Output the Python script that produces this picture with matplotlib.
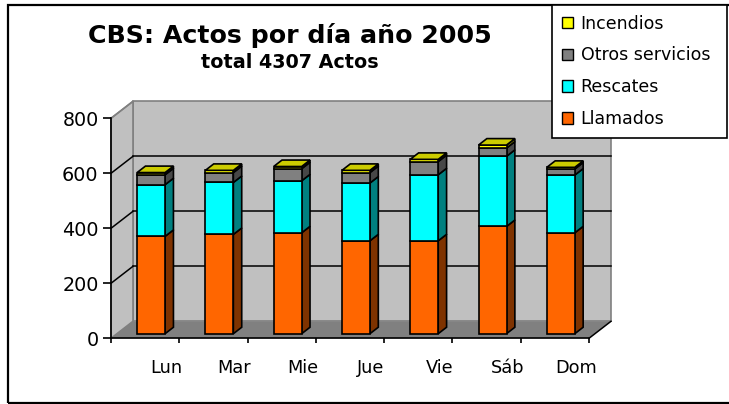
import numpy as np
import matplotlib.pyplot as plt
from matplotlib.patches import Polygon, Rectangle, Patch
from matplotlib.transforms import IdentityTransform, ScaledTranslation

# data
dias = ["Lun", "Mar", "Mie", "Jue", "Vie", "Sáb", "Dom"]
llamados = [354, 361, 367, 338, 338, 390, 367]
rescates = [188, 189, 189, 210, 240, 255, 210]
otros = [36, 36, 44, 38, 48, 30, 22]
incendios = [8, 8, 8, 8, 8, 11, 6]

series = [
    ("Llamados", llamados, "#FF6600", "#7F3300"),
    ("Rescates", rescates, "#00FFFF", "#008080"),
    ("Otros servicios", otros, "#808080", "#474747"),
    ("Incendios", incendios, "#FFFF00", "#808000"),
]
top_color = "#CCCC00"

W, H = 729, 404
fig = plt.figure(figsize=(W / 100, H / 100), dpi=100)

# front plane of the 3d box
ax = fig.add_axes([111 / W, 1 - 338.3 / H, 478 / W, 220 / H])
ax.set_xlim(-0.5, len(dias) - 0.5)
ax.set_ylim(0, 800)
ax.patch.set_visible(False)

depth = np.array([22.0, 17.0])  # pixels, front -> back wall
xmin, xmax = -0.5, len(dias) - 0.5


def pt(x, y, d=0.0):
    px, py = ax.transData.transform((x, y))
    return (px + d * depth[0], py + d * depth[1])


def face(pts, fc, ec="black", lw=1.2, z=1):
    ax.add_patch(Polygon(pts, closed=True, facecolor=fc, edgecolor=ec, lw=lw,
                         transform=IdentityTransform(), clip_on=False, zorder=z))


def seg(p0, p1, color="black", lw=1.1, z=1.5):
    ax.plot([p0[0], p1[0]], [p0[1], p1[1]], color=color, lw=lw,
            transform=IdentityTransform(), clip_on=False, zorder=z)


# walls and floor
face([pt(xmin, 0, 1), pt(xmax, 0, 1), pt(xmax, 800, 1), pt(xmin, 800, 1)],
     "#C0C0C0", ec="#808080", z=0.5)
face([pt(xmin, 0, 0), pt(xmin, 0, 1), pt(xmin, 800, 1), pt(xmin, 800, 0)],
     "#C0C0C0", ec="#808080", z=0.5)
face([pt(xmin, 0, 0), pt(xmax, 0, 0), pt(xmax, 0, 1), pt(xmin, 0, 1)],
     "#808080", ec="none", z=0.6)
seg(pt(xmax, 0, 0), pt(xmax, 0, 1))

for v in [200, 400, 600]:
    seg(pt(xmin, v, 1), pt(xmax, v, 1))
    seg(pt(xmin, v, 0), pt(xmin, v, 1))
seg(pt(xmin, 800, 0), pt(xmin, 800, 1), color="#808080")

# stacked 3d columns
hw = 0.205
d0, d1 = 0.27, 0.65
for i in range(len(dias)):
    bottom = 0
    xl, xr = i - hw, i + hw
    for k, (name, vals, fc, sc) in enumerate(series):
        y0, y1 = bottom, bottom + vals[i]
        face([pt(xr, y0, d0), pt(xr, y0, d1), pt(xr, y1, d1), pt(xr, y1, d0)], sc, z=2)
        face([pt(xl, y0, d0), pt(xr, y0, d0), pt(xr, y1, d0), pt(xl, y1, d0)], fc, z=2)
        if k == len(series) - 1:
            face([pt(xl, y1, d0), pt(xr, y1, d0), pt(xr, y1, d1), pt(xl, y1, d1)],
                 top_color, z=2)
        bottom = y1

# axes lines and ticks
for s in ["top", "right"]:
    ax.spines[s].set_visible(False)
for s in ["left", "bottom"]:
    ax.spines[s].set_linewidth(1.2)
ax.set_yticks(range(0, 801, 200))
ax.tick_params(axis="y", direction="out", length=6, width=1.2, labelsize=13.8, pad=3)
ax.set_xticks(np.arange(xmin, xmax + 0.01, 1))
ax.set_xticklabels([])
ax.tick_params(axis="x", direction="out", length=3.6, width=1.2)

lab_tr = ax.transData + ScaledTranslation(21 / 100, -35 / 100, fig.dpi_scale_trans)
for i, d in enumerate(dias):
    ax.text(i, 0, d, transform=lab_tr, ha="center", va="baseline", fontsize=12.8)

# titles
fig.text(290 / W, 1 - 43.5 / H, "CBS: Actos por día año 2005", ha="center",
         va="baseline", fontsize=18.2, fontweight="bold")
fig.text(290 / W, 1 - 68.3 / H, "total 4307 Actos", ha="center",
         va="baseline", fontsize=13.8, fontweight="bold")

# chart border
fig.add_artist(Rectangle((7.5 / W, 1 - 403 / H), 740 / W, 398 / H, transform=fig.transFigure,
                         fill=False, edgecolor="black", lw=1.6))

# legend
handles = [Patch(facecolor=fc, edgecolor="black", lw=1) for _, _, fc, _ in series[::-1]]
labels = [name for name, _, _, _ in series[::-1]]
leg = fig.legend(handles, labels, loc="upper left",
                 bbox_to_anchor=(552 / W, 1 - 138 / H, 175 / W, 133 / H), mode="expand",
                 fontsize=12.5, fancybox=False, framealpha=1, edgecolor="black",
                 handlelength=0.65, handleheight=0.65, handletextpad=0.45,
                 labelspacing=0.8, borderpad=0.55, borderaxespad=0)
leg.get_frame().set_linewidth(1.2)

fig.savefig("out.png", dpi=100)
